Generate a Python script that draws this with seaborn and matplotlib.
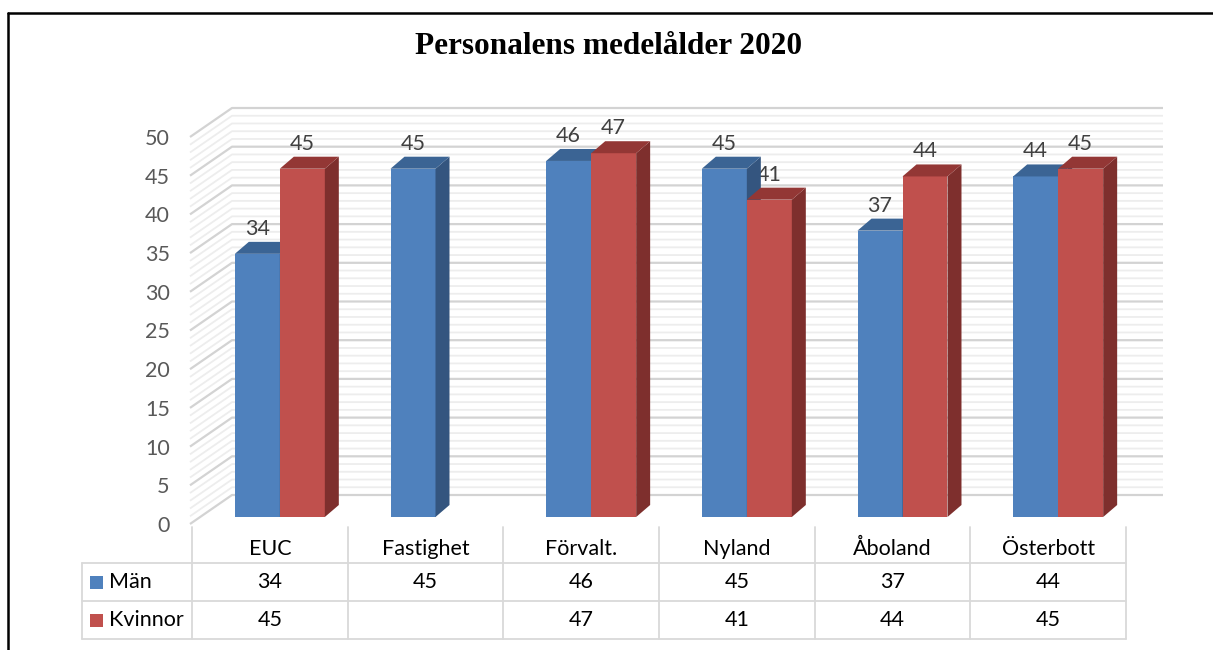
import numpy as np
import pandas as pd
import matplotlib
matplotlib.use("Agg")
import matplotlib.pyplot as plt
import matplotlib.transforms as mtransforms
import seaborn as sns
from matplotlib.patches import Polygon, Rectangle
from matplotlib.lines import Line2D

# data
title = "Personalens medelålder 2020"
categories = ["EUC", "Fastighet", "Förvalt.", "Nyland", "Åboland", "Österbott"]
series = ["Män", "Kvinnor"]
man = [34, 45, 46, 45, 37, 44]
kvinnor = [45, np.nan, 47, 41, 44, 45]
yticks = list(range(0, 55, 5))

front_colors = {"Män": "#4F81BD", "Kvinnor": "#C0504D"}
side_colors = {"Män": "#34557F", "Kvinnor": "#7E2F2D"}
top_colors = {"Män": "#3B6494", "Kvinnor": "#933735"}

W, H = 1213, 650
FS = 15.5
sns.set_theme(style="white")
plt.rcParams["font.family"] = ["Lato", "DejaVu Sans"]

fig = plt.figure(figsize=(W / 100, H / 100), dpi=100)


def fx(px):
    return px / W


def fy(py):
    return 1 - py / H


# front plane (axis labels live here)
x0, x1 = 192, 1126
y0, y1 = 524, 137
px_x = (x1 - x0) / 6
px_y = (y0 - y1) / 50
ax = fig.add_axes([fx(x0), fy(y0), (x1 - x0) / W, (y0 - y1) / H])
ax.set_xlim(-0.5, 5.5)
ax.set_ylim(0, 50)
ax.set_yticks(yticks)
ax.set_yticklabels([str(t) for t in yticks])
ax.set_xticks([])
ax.tick_params(axis="y", length=0, pad=16, labelsize=FS, labelcolor="#595959")
for s in ax.spines.values():
    s.set_visible(False)
ax.patch.set_visible(False)

# back wall + left wall grid
dxb, dyb = 40 / px_x, 29 / px_y
x_front = -0.5 - 2 / px_x
x_end = 5.5 + 37 / px_x
for v in range(0, 51):
    major = v % 5 == 0
    ax.plot([x_front, -0.5 + dxb, x_end], [v, v + dyb, v + dyb],
            color="#D3D3D3" if major else "#EDEDED",
            lw=1.6 if major else 1.3, clip_on=False, zorder=0.5,
            solid_capstyle="butt")

# bar plane (a bit deeper than the front)
ax_bar = fig.add_axes([fx(x0 + 10), fy(y0 - 7), (x1 - x0) / W, (y0 - y1) / H])
df = pd.DataFrame({
    "kategori": categories * 2,
    "serie": ["Män"] * len(categories) + ["Kvinnor"] * len(categories),
    "värde": man + kvinnor,
})
sns.barplot(data=df, x="kategori", y="värde", hue="serie", order=categories,
            hue_order=series, palette=front_colors, width=0.578, saturation=1,
            errorbar=None, linewidth=0, legend=False, ax=ax_bar)
ax_bar.set_xlim(-0.5, 5.5)
ax_bar.set_ylim(0, 50)
ax_bar.axis("off")

dx, dy = 14 / px_x, 12 / px_y
for i, (cont, name) in enumerate(zip(ax_bar.containers, series)):
    for bar in cont:
        h = bar.get_height()
        if not np.isfinite(h) or h <= 0:
            continue
        bx, bw = bar.get_x(), bar.get_width()
        z = 2 + i
        bar.set_zorder(z)
        side = Polygon([(bx + bw, 0), (bx + bw + dx, dy), (bx + bw + dx, h + dy), (bx + bw, h)],
                       closed=True, facecolor=side_colors[name], edgecolor="none",
                       zorder=z + 0.1, clip_on=False)
        top = Polygon([(bx, h), (bx + dx, h + dy), (bx + bw + dx, h + dy), (bx + bw, h)],
                      closed=True, facecolor=top_colors[name], edgecolor="none",
                      zorder=z + 0.1, clip_on=False)
        ax_bar.add_patch(side)
        ax_bar.add_patch(top)
        ax_bar.annotate(f"{h:.0f}", (bx + bw / 2, h), xytext=(0, 18),
                        textcoords="offset points", ha="center", va="center",
                        fontsize=FS, color="#404040", zorder=1,
                        annotation_clip=False)

# data table under the chart
tr = mtransforms.blended_transform_factory(ax.transData, fig.transFigure)
grid_c = "#D9D9D9"
for k in range(len(categories) + 1):
    xb = -0.5 + k
    fig.add_artist(Line2D([xb, xb], [fy(527), fy(639)], transform=tr,
                          color=grid_c, lw=1.3))
fig.add_artist(Line2D([fx(82), fx(82)], [fy(563), fy(639)],
                      transform=fig.transFigure, color=grid_c, lw=1.3))
for yy in [563, 601, 639]:
    fig.add_artist(Line2D([fx(82), fx(x1)], [fy(yy), fy(yy)],
                          transform=fig.transFigure, color=grid_c, lw=1.3))

for k, cat in enumerate(categories):
    fig.text(k, fy(549), cat, transform=tr, ha="center", va="center",
             fontsize=FS, color="black")
rows = {"Män": man, "Kvinnor": kvinnor}
row_y = {"Män": 582, "Kvinnor": 620}
for name in series:
    for k, v in enumerate(rows[name]):
        if np.isfinite(v):
            fig.text(k, fy(row_y[name]), f"{v:.0f}", transform=tr, ha="center",
                     va="center", fontsize=FS, color="black")
    fig.add_artist(Rectangle((fx(90), fy(row_y[name] + 7)), 13 / W, 13 / H,
                             transform=fig.transFigure,
                             facecolor=front_colors[name], edgecolor="none"))
    fig.text(fx(109), fy(row_y[name]), name, ha="left", va="center",
             fontsize=FS, color="black")

# title
fig.text(fx(609), fy(46), title, ha="center", va="center", fontsize=22.5,
         fontweight="bold", color="black",
         family=["Liberation Serif", "DejaVu Serif"])

# frame (only top and left visible in the crop)
fig.add_artist(Line2D([fx(8), 1], [fy(12.5), fy(12.5)], transform=fig.transFigure,
                      color="black", lw=1.8))
fig.add_artist(Line2D([fx(8), fx(8)], [fy(12.5), 0], transform=fig.transFigure,
                      color="black", lw=1.8))

fig.savefig("out.png", dpi=100)
